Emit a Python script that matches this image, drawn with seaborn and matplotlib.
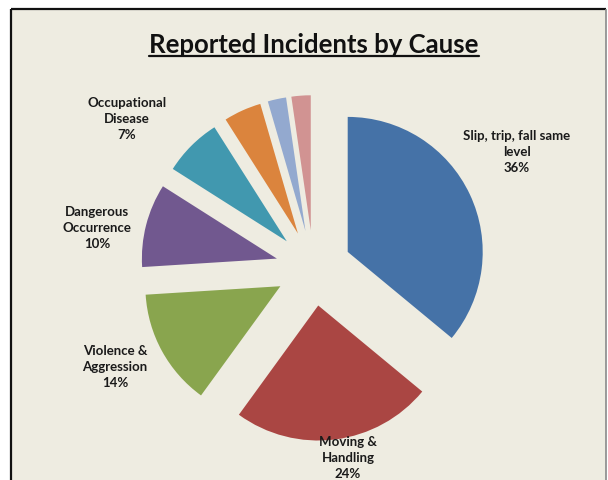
import matplotlib
matplotlib.use("Agg")
import matplotlib.pyplot as plt
import seaborn as sns

sns.set_style("white")
plt.rcParams['font.family'] = ['Lato', 'DejaVu Sans']

# ---- data ----
categories = ["Slip, trip, fall same level", "Moving & Handling", "Violence & Aggression",
              "Dangerous Occurrence", "Occupational Disease", "Other 1", "Other 2", "Other 3"]
values = [36, 24, 14, 10, 7, 4.5, 2.2, 2.3]
label_texts = ["Slip, trip, fall same\nlevel\n36%", "Moving &\nHandling\n24%",
               "Violence &\nAggression\n14%", "Dangerous\nOccurrence\n10%",
               "Occupational\nDisease\n7%", None, None, None]
colors = ["#4572A7", "#AA4643", "#89A54E", "#71588F", "#4198AF", "#DB843D", "#93A9CF", "#D19392"]
title = "Reported Incidents by Cause"

# ---- layout helpers (pixel -> data) ----
W, H = 608, 481
CX, CY, R = 313.5, 269.0, 135.0

def px(x, y):
    return ((x - CX) / R, (CY - y) / R)

fig = plt.figure(figsize=(W / 100, H / 100), dpi=100)
fig.patch.set_facecolor("white")
ax = fig.add_axes([0, 0, 1, 1])

palette = sns.color_palette(colors)
ax.pie(values, colors=palette, startangle=90, counterclock=False,
       radius=1.0, center=(0, 0), explode=[0.28] * len(values),
       wedgeprops=dict(linewidth=0, zorder=3))

x0, y0 = px(0, H)
x1, y1 = px(W, 0)
ax.set_xlim(x0, x1)
ax.set_ylim(y0, y1)
ax.set_aspect("auto")
ax.axis("off")

# panel background and border
pl, pt = px(11, 10)
pr, pb = px(606, H + 5)
ax.add_patch(plt.Rectangle((pl, pb), pr - pl, pt - pb, facecolor="#EEECE1",
                           edgecolor="none", zorder=0))
ax.plot([pl, pl], [pb, pt], color="#111111", lw=1.6, zorder=1, solid_capstyle="butt")
ax.plot([pl, pr], [pt, pt], color="#111111", lw=1.6, zorder=1, solid_capstyle="butt")
ax.plot([pr, pr], [pb, pt], color="#8a8a8a", lw=1.2, zorder=1, solid_capstyle="butt")

# title with underline
tx, ty = px(314, 45)
t = ax.text(tx, ty, title, ha="center", va="center", fontsize=18.5, fontweight="bold",
            color="#111111", zorder=5)
fig.canvas.draw()
bb = t.get_window_extent().transformed(ax.transData.inverted())
uy = px(0, 57)[1]
ax.plot([bb.x0, bb.x1], [uy, uy], color="#111111", lw=1.6, zorder=5)

# data labels
label_pos = [(517, 152), (348, 458), (115, 367), (97, 228), (127, 119)]
for txt, (lx, ly) in zip(label_texts, label_pos):
    if txt is None:
        continue
    x, y = px(lx, ly)
    ax.text(x, y, txt, ha="center", va="center", fontsize=9.5, fontweight="bold",
            color="#1a1a1a", linespacing=1.42, zorder=5)

fig.savefig("out.png", dpi=100, facecolor=fig.get_facecolor())
